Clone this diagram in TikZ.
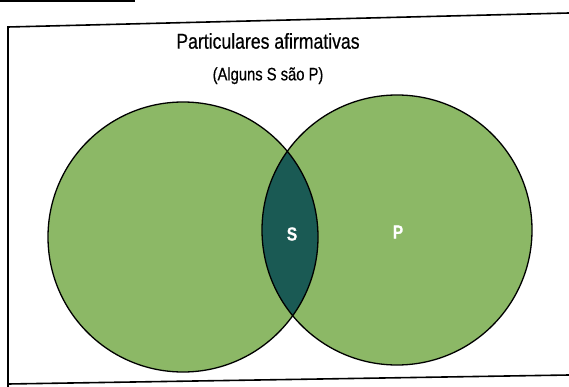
\documentclass[tikz,border=0pt]{standalone}
\usepackage{fontspec}
\setmainfont{Liberation Sans}[FakeStretch=0.82, FakeBold=0.6]
\usetikzlibrary{positioning}
\definecolor{vennGreen}{RGB}{140,184,102}
\definecolor{vennTeal}{RGB}{26,90,84}
\tikzset{
  setcircle/.style  = {circle, fill=vennGreen, minimum size=270pt, inner sep=0pt},
  heading/.style    = {font=\fontsize{21.5}{24}\selectfont, inner sep=1pt},
  subheading/.style = {font=\fontsize{18}{20}\selectfont, inner sep=1pt},
  setlabel/.style   = {text=white, font=\bfseries\fontsize{19}{21}\selectfont}
}

\begin{document}
\begin{tikzpicture}[x=1pt, y=-1pt]
\useasboundingbox (0,0) rectangle (569,387);

% frame of the box (photo is slightly tilted)
\draw[line width=1.6pt] (0,1) -- (135,1);
\draw[line width=1.6pt] (569,13) -- (8,27) -- (8,387);
\draw[line width=1.6pt] (8,384) -- (569,375);

% headings
\node[heading] (head) at (268,41) {Particulares afirmativas};
\node[subheading, below=16pt of head] (sub) {(Alguns S são P)};

% the two sets
\node[setcircle] (sset) at (183,237) {};
\node[setcircle] (pset) at (397,230) {};

% the common part, S inside P
\begin{scope}
  \clip (sset.center) circle (135pt);
  \fill[vennTeal] (pset.center) circle (135pt);
\end{scope}
\draw[line width=1.3pt] (sset.center) circle (135pt);
\draw[line width=1.3pt] (pset.center) circle (135pt);

\node[setlabel] (s) at (292,234) {S};
\node[setlabel] (p) at (398,232) {P};

\end{tikzpicture}
\end{document}
